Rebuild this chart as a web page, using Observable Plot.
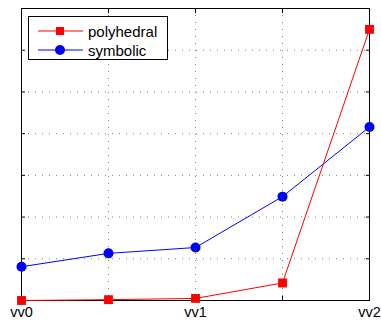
<!DOCTYPE html>
<html>
<head>
<meta charset="utf-8">
<script src="https://cdn.jsdelivr.net/npm/d3@7"></script>
<script src="https://cdn.jsdelivr.net/npm/@observablehq/plot@0.6"></script>
<style>
  html, body { margin: 0; padding: 0; background: #fff; }
  #wrap { position: relative; width: 381px; height: 321px; font-family: "Liberation Sans", Arial, Helvetica, sans-serif; }
  #legend { position: absolute; left: 28px; top: 16px; width: 138px; height: 42px; border: 1px solid #000; background: #fff; }
  .row { position: absolute; left: 0; height: 20px; display: flex; align-items: center; }
  .row svg { position: absolute; left: 9px; }
  .row span { position: absolute; left: 59px; font-size: 15px; white-space: nowrap; color: #000; }
</style>
</head>
<body>
<div id="wrap"></div>
<script>
const positions = [0, 1, 2, 3, 4];
const tickPositions = [0, 2, 4];
const tickLabels = ["vv0", "vv1", "vv2"];
const yTicks = [0, 1, 2, 3, 4, 5, 6, 7];
const seriesNames = ["polyhedral", "symbolic"];
const polyhedral = [0, 0.02, 0.05, 0.42, 6.5];
const symbolic = [0.81, 1.13, 1.27, 2.49, 4.16];

const data = [];
positions.forEach((p, i) => {
  data.push({series: seriesNames[0], x: p, y: polyhedral[i]});
  data.push({series: seriesNames[1], x: p, y: symbolic[i]});
});
const poly = data.filter(d => d.series === "polyhedral");
const sym = data.filter(d => d.series === "symbolic");

const chart = Plot.plot({
  width: 381,
  height: 321,
  marginLeft: 21,
  marginRight: 12,
  marginTop: 8,
  marginBottom: 21,
  style: {fontFamily: "'Liberation Sans', Arial, Helvetica, sans-serif", background: "#fff"},
  x: {type: "linear", domain: [0, 4]},
  y: {type: "linear", domain: [0, 7]},
  marks: [
    Plot.gridX(positions.slice(1, 4), {stroke: "#000", strokeOpacity: 0.5, strokeDasharray: "1,6"}),
    Plot.gridY(yTicks.slice(1, 7), {stroke: "#000", strokeOpacity: 0.5, strokeDasharray: "1,6"}),
    Plot.axisY(yTicks, {anchor: "left", tickSize: -4, tickFormat: () => "", label: null, stroke: "#000"}),
    Plot.axisY(yTicks, {anchor: "right", tickSize: -4, tickFormat: () => "", label: null, stroke: "#000"}),
    Plot.axisX(positions, {anchor: "top", tickSize: -4, tickFormat: () => "", label: null, stroke: "#000"}),
    Plot.axisX(positions, {anchor: "bottom", tickSize: -4, tickFormat: () => "", label: null, stroke: "#000"}),
    Plot.axisX(tickPositions, {anchor: "bottom", tickSize: 0, tickPadding: 6, tickFormat: (d) => tickLabels[tickPositions.indexOf(d)], label: null, fontSize: 14.5, fill: "#000"}),
    Plot.frame({stroke: "#000"}),
    Plot.line(sym, {x: "x", y: "y", stroke: "#0000ff", strokeWidth: 1}),
    Plot.dot(sym, {x: "x", y: "y", r: 5, fill: "#0000ff", stroke: null, symbol: "circle"}),
    Plot.line(poly, {x: "x", y: "y", stroke: "#ff0000", strokeWidth: 1}),
    Plot.dot(poly, {x: "x", y: "y", r: 5, fill: "#ff0000", stroke: null, symbol: "square"})
  ]
});

const wrap = document.getElementById("wrap");
wrap.appendChild(chart);

const legend = document.createElement("div");
legend.id = "legend";
const colors = ["#ff0000", "#0000ff"];
seriesNames.forEach((name, i) => {
  const row = document.createElement("div");
  row.className = "row";
  row.style.top = (4 + i * 19) + "px";
  const marker = i === 0
    ? `<rect x="18" y="6" width="8" height="8" fill="${colors[i]}"/>`
    : `<circle cx="22" cy="10" r="5" fill="${colors[i]}"/>`;
  row.innerHTML = `<svg width="46" height="20"><line x1="0" x2="45" y1="10" y2="10" stroke="${colors[i]}" stroke-width="1"/>${marker}</svg><span>${name}</span>`;
  legend.appendChild(row);
});
wrap.appendChild(legend);
</script>
</body>
</html>
